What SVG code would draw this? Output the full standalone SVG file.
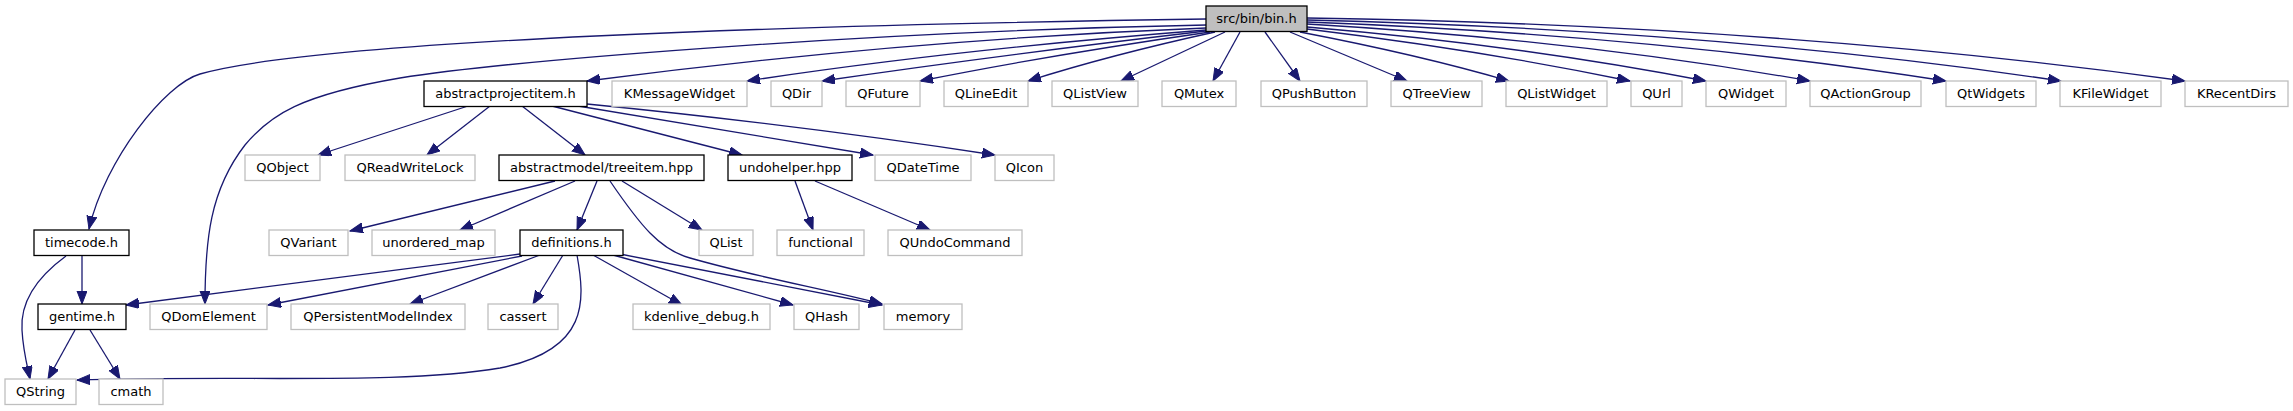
<svg xmlns="http://www.w3.org/2000/svg" width="2293" height="411" viewBox="0 0 2293 411">
<style>
rect{fill:#fff;stroke-width:1.3}
.d rect{stroke:#000}
.u rect{stroke:#bfbfbf}
.r rect{fill:#bfbfbf;stroke:#000}
text{font-family:"DejaVu Sans","Liberation Sans",sans-serif;font-size:13px;text-anchor:middle;fill:#000}
#edges path{fill:none;stroke:#191970;stroke-width:1.3;marker-end:url(#arr)}
</style>
<defs>
<marker id="arr" markerWidth="14" markerHeight="11" refX="13" refY="5" orient="auto" markerUnits="userSpaceOnUse">
<path d="M0,0 L13,5 L0,10 z" fill="#191970" stroke="#191970" stroke-width="1"/>
</marker>
</defs>
<rect x="0" y="0" width="2293" height="411" style="fill:#fff;stroke:none"/>
<g id="edges">
<path d="M1206,19 C800,25 320,40 200,74 C165,84 105,160 89,229"/>
<path d="M1206,25 C850,32 500,62 400,78 C300,95 270,115 245,145 C210,190 205,240 205,304"/>
<path d="M1206,28 Q900,40 587,81"/>
<path d="M1206,30 Q950,50 747,81"/>
<path d="M1206,31 Q1000,55 822,81"/>
<path d="M1210,32 Q1050,55 920,81"/>
<path d="M1215,32 Q1110,55 1028,81"/>
<path d="M1225,32 L1121,81"/>
<path d="M1240,32 L1213,81"/>
<path d="M1265,32 L1300,81"/>
<path d="M1290,32 L1407,81"/>
<path d="M1300,32 Q1420,55 1509,81"/>
<path d="M1307,29 Q1480,50 1630,81"/>
<path d="M1307,27 Q1520,45 1706,81"/>
<path d="M1307,24 Q1580,40 1810,81"/>
<path d="M1307,22 Q1650,35 1946,81"/>
<path d="M1307,20 Q1720,30 2061,81"/>
<path d="M1307,18 Q1780,25 2185,81"/>
<path d="M468,106 L318,155"/>
<path d="M490,106 L427,155"/>
<path d="M522,106 L585,155"/>
<path d="M552,106 L742,155"/>
<path d="M578,106 L873,155"/>
<path d="M587,104 Q800,125 995,155"/>
<path d="M555,181 L350,231"/>
<path d="M575,181 L460,230"/>
<path d="M597,181 L577,230"/>
<path d="M622,181 L702,230"/>
<path d="M610,181 C640,225 660,250 690,258 C760,278 830,290 882,304"/>
<path d="M795,181 L813,230"/>
<path d="M815,181 L930,230"/>
<path d="M520,254 L126,305"/>
<path d="M522,256 L268,305"/>
<path d="M540,255 L410,304"/>
<path d="M563,255 L533,304"/>
<path d="M577,255 C585,300 590,350 500,368 C400,385 250,375 77,380"/>
<path d="M593,255 L682,305"/>
<path d="M613,255 L793,305"/>
<path d="M620,254 L882,305"/>
<path d="M82,255 L82,304"/>
<path d="M66,256 C40,275 20,300 22,330 C23,350 27,365 30,379"/>
<path d="M75,330 L48,379"/>
<path d="M90,330 L120,379"/>
</g>
<g id="n_bin" class="r"><rect x="1206" y="6" width="101" height="25.5"/><text x="1256.5" y="23">src/bin/bin.h</text></g>
<g id="n_abstractprojectitem" class="d"><rect x="424" y="81" width="163" height="25.5"/><text x="505.5" y="98">abstractprojectitem.h</text></g>
<g id="n_KMessageWidget" class="u"><rect x="612" y="81" width="135" height="25.5"/><text x="679.5" y="98">KMessageWidget</text></g>
<g id="n_QDir" class="u"><rect x="771" y="81" width="51" height="25.5"/><text x="796.5" y="98">QDir</text></g>
<g id="n_QFuture" class="u"><rect x="846" y="81" width="74" height="25.5"/><text x="883" y="98">QFuture</text></g>
<g id="n_QLineEdit" class="u"><rect x="944" y="81" width="84" height="25.5"/><text x="986" y="98">QLineEdit</text></g>
<g id="n_QListView" class="u"><rect x="1052" y="81" width="86" height="25.5"/><text x="1095" y="98">QListView</text></g>
<g id="n_QMutex" class="u"><rect x="1162" y="81" width="74" height="25.5"/><text x="1199" y="98">QMutex</text></g>
<g id="n_QPushButton" class="u"><rect x="1261" y="81" width="106" height="25.5"/><text x="1314" y="98">QPushButton</text></g>
<g id="n_QTreeView" class="u"><rect x="1391" y="81" width="91" height="25.5"/><text x="1436.5" y="98">QTreeView</text></g>
<g id="n_QListWidget" class="u"><rect x="1506" y="81" width="101" height="25.5"/><text x="1556.5" y="98">QListWidget</text></g>
<g id="n_QUrl" class="u"><rect x="1631" y="81" width="51" height="25.5"/><text x="1656.5" y="98">QUrl</text></g>
<g id="n_QWidget" class="u"><rect x="1706" y="81" width="80" height="25.5"/><text x="1746" y="98">QWidget</text></g>
<g id="n_QActionGroup" class="u"><rect x="1810" y="81" width="111" height="25.5"/><text x="1865.5" y="98">QActionGroup</text></g>
<g id="n_QtWidgets" class="u"><rect x="1946" y="81" width="90" height="25.5"/><text x="1991" y="98">QtWidgets</text></g>
<g id="n_KFileWidget" class="u"><rect x="2060" y="81" width="101" height="25.5"/><text x="2110.5" y="98">KFileWidget</text></g>
<g id="n_KRecentDirs" class="u"><rect x="2185" y="81" width="103" height="25.5"/><text x="2236.5" y="98">KRecentDirs</text></g>
<g id="n_QObject" class="u"><rect x="245" y="155" width="75" height="25.5"/><text x="282.5" y="172">QObject</text></g>
<g id="n_QReadWriteLock" class="u"><rect x="345" y="155" width="130" height="25.5"/><text x="410" y="172">QReadWriteLock</text></g>
<g id="n_treeitem" class="d"><rect x="499" y="155" width="205" height="25.5"/><text x="601.5" y="172">abstractmodel/treeitem.hpp</text></g>
<g id="n_undohelper" class="d"><rect x="728" y="155" width="124" height="25.5"/><text x="790" y="172">undohelper.hpp</text></g>
<g id="n_QDateTime" class="u"><rect x="875" y="155" width="96" height="25.5"/><text x="923" y="172">QDateTime</text></g>
<g id="n_QIcon" class="u"><rect x="995" y="155" width="59" height="25.5"/><text x="1024.5" y="172">QIcon</text></g>
<g id="n_timecode" class="d"><rect x="34" y="230" width="95" height="25.5"/><text x="81.5" y="247">timecode.h</text></g>
<g id="n_QVariant" class="u"><rect x="269" y="230" width="79" height="25.5"/><text x="308.5" y="247">QVariant</text></g>
<g id="n_unordered_map" class="u"><rect x="372" y="230" width="123" height="25.5"/><text x="433.5" y="247">unordered_map</text></g>
<g id="n_definitions" class="d"><rect x="520" y="230" width="103" height="25.5"/><text x="571.5" y="247">definitions.h</text></g>
<g id="n_QList" class="u"><rect x="699" y="230" width="54" height="25.5"/><text x="726" y="247">QList</text></g>
<g id="n_functional" class="u"><rect x="777" y="230" width="87" height="25.5"/><text x="820.5" y="247">functional</text></g>
<g id="n_QUndoCommand" class="u"><rect x="888" y="230" width="134" height="25.5"/><text x="955" y="247">QUndoCommand</text></g>
<g id="n_gentime" class="d"><rect x="38" y="304" width="88" height="25.5"/><text x="82" y="321">gentime.h</text></g>
<g id="n_QDomElement" class="u"><rect x="150" y="304" width="117" height="25.5"/><text x="208.5" y="321">QDomElement</text></g>
<g id="n_QPersistentModelIndex" class="u"><rect x="291" y="304" width="174" height="25.5"/><text x="378" y="321">QPersistentModelIndex</text></g>
<g id="n_cassert" class="u"><rect x="488" y="304" width="70" height="25.5"/><text x="523" y="321">cassert</text></g>
<g id="n_kdenlive_debug" class="u"><rect x="633" y="304" width="137" height="25.5"/><text x="701.5" y="321">kdenlive_debug.h</text></g>
<g id="n_QHash" class="u"><rect x="794" y="304" width="65" height="25.5"/><text x="826.5" y="321">QHash</text></g>
<g id="n_memory" class="u"><rect x="884" y="304" width="78" height="25.5"/><text x="923" y="321">memory</text></g>
<g id="n_QString" class="u"><rect x="5" y="379" width="71" height="25.5"/><text x="40.5" y="396">QString</text></g>
<g id="n_cmath" class="u"><rect x="99" y="379" width="64" height="25.5"/><text x="131" y="396">cmath</text></g>
</svg>
